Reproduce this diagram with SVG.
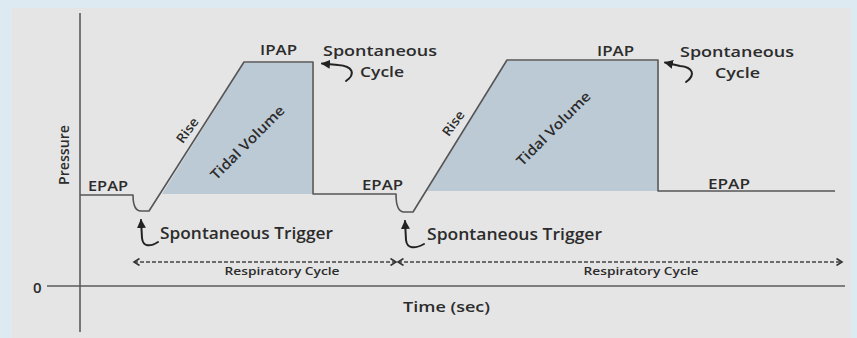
<svg xmlns="http://www.w3.org/2000/svg" width="857" height="338" viewBox="0 0 857 338">
  <style>
    .lbl { font-family: "Open Sans", "Liberation Sans", sans-serif; font-weight: 600; fill: #2c2c2c; }
    .trace { fill: none; stroke: #555; stroke-width: 1.6; stroke-linejoin: round; }
    .axis { fill: none; stroke: #5a5a5a; stroke-width: 1.6; }
    .fillv { fill: #bccad5; }
    .dash { fill: none; stroke: #444; stroke-width: 1.5; stroke-dasharray: 4 2; }
    .curl { fill: none; stroke: #222; stroke-width: 2; stroke-linecap: round; }
  </style>
  <defs>
    <marker id="solidHead" markerWidth="9" markerHeight="9" refX="8" refY="4.5" orient="auto" markerUnits="userSpaceOnUse">
      <path d="M0,0 L9,4.5 L0,9 Z" fill="#222"/>
    </marker>
    <marker id="openHead" markerWidth="8" markerHeight="8" refX="6" refY="4" orient="auto-start-reverse" markerUnits="userSpaceOnUse">
      <path d="M0.5,0.5 L6,4 L0.5,7.5" fill="none" stroke="#333" stroke-width="1.6"/>
    </marker>
  </defs>

  <!-- background and panel -->
  <rect x="0" y="0" width="857" height="338" fill="#deeaf1"/>
  <rect x="12" y="8" width="839" height="330" fill="#e5e5e5"/>

  <!-- axes -->
  <g id="axes">
    <line class="axis" x1="80" y1="13" x2="80" y2="332"/>
    <line class="axis" x1="47" y1="286" x2="845" y2="286"/>
    <text class="lbl" x="33" y="293" font-size="15" font-weight="700">0</text>
    <text class="lbl" font-size="14" text-anchor="middle" transform="translate(69,155) rotate(-90)" textLength="60" lengthAdjust="spacingAndGlyphs">Pressure</text>
    <text class="lbl" x="403" y="312" font-size="15" textLength="87" lengthAdjust="spacingAndGlyphs">Time (sec)</text>
  </g>

  <!-- tidal volume areas -->
  <g id="tidal-volume-1">
    <polygon class="fillv" points="162,194 244,63 312,63 312,194"/>
    <text class="lbl" font-size="14" text-anchor="middle" transform="translate(251,146) rotate(-45)" textLength="98" lengthAdjust="spacingAndGlyphs">Tidal Volume</text>
  </g>
  <g id="tidal-volume-2">
    <polygon class="fillv" points="427,191 507,61 657,61 657,191"/>
    <text class="lbl" font-size="14" text-anchor="middle" transform="translate(557,132) rotate(-45)" textLength="98" lengthAdjust="spacingAndGlyphs">Tidal Volume</text>
  </g>

  <!-- pressure trace -->
  <g id="pressure-trace">
    <path class="trace" d="M80,195 L133,195 C133,205 135,211 141,211 L149,211 L244,62 L313,62 L313,194 L396,194 C396,204 398,212 404,212 L413,212 L507,60 L658,60 L658,191 L835,191"/>
  </g>

  <!-- pressure labels -->
  <g id="epap-1"><text class="lbl" x="88" y="191" font-size="14" textLength="40" lengthAdjust="spacingAndGlyphs">EPAP</text></g>
  <g id="ipap-1"><text class="lbl" x="260" y="55" font-size="14" textLength="37" lengthAdjust="spacingAndGlyphs">IPAP</text></g>
  <g id="epap-2"><text class="lbl" x="362" y="190" font-size="14" textLength="41" lengthAdjust="spacingAndGlyphs">EPAP</text></g>
  <g id="ipap-2"><text class="lbl" x="597" y="56" font-size="14" textLength="37" lengthAdjust="spacingAndGlyphs">IPAP</text></g>
  <g id="epap-3"><text class="lbl" x="708" y="189" font-size="14" textLength="42" lengthAdjust="spacingAndGlyphs">EPAP</text></g>
  <g id="rise-1"><text class="lbl" font-size="13" text-anchor="middle" transform="translate(191,133) rotate(-54)" textLength="28" lengthAdjust="spacingAndGlyphs">Rise</text></g>
  <g id="rise-2"><text class="lbl" font-size="13" text-anchor="middle" transform="translate(457,126) rotate(-54)" textLength="28" lengthAdjust="spacingAndGlyphs">Rise</text></g>

  <!-- spontaneous cycle notes -->
  <g id="cycle-note-1">
    <text class="lbl" x="323" y="56" font-size="15" textLength="114" lengthAdjust="spacingAndGlyphs">Spontaneous</text>
    <text class="lbl" x="360" y="77" font-size="15" textLength="44" lengthAdjust="spacingAndGlyphs">Cycle</text>
  </g>
  <g id="cycle-note-2">
    <text class="lbl" x="680" y="57" font-size="15" textLength="114" lengthAdjust="spacingAndGlyphs">Spontaneous</text>
    <text class="lbl" x="715" y="78" font-size="15" textLength="45" lengthAdjust="spacingAndGlyphs">Cycle</text>
  </g>

  <!-- spontaneous trigger notes -->
  <g id="trigger-note-1">
    <text class="lbl" x="160" y="239" font-size="16" textLength="173" lengthAdjust="spacingAndGlyphs">Spontaneous Trigger</text>
  </g>
  <g id="trigger-note-2">
    <text class="lbl" x="427" y="240" font-size="16" textLength="175" lengthAdjust="spacingAndGlyphs">Spontaneous Trigger</text>
  </g>

  <!-- respiratory cycle spans -->
  <g id="resp-cycle-1">
    <text class="lbl" x="282" y="275" font-size="11" text-anchor="middle" textLength="115" lengthAdjust="spacingAndGlyphs">Respiratory Cycle</text>
  </g>
  <g id="resp-cycle-2">
    <text class="lbl" x="641" y="275" font-size="11" text-anchor="middle" textLength="115" lengthAdjust="spacingAndGlyphs">Respiratory Cycle</text>
  </g>

  <!-- connectors -->
  <g id="connectors">
    <path class="curl" d="M346,81 C356,74 353,66 338,65 L322,63.5" marker-end="url(#solidHead)"/>
    <path class="curl" d="M686,82 C696,75 693,67 680,66 L665,62.5" marker-end="url(#solidHead)"/>
    <path class="curl" d="M158,242 C150,247 143,247 142,238 L141,220" marker-end="url(#solidHead)"/>
    <path class="curl" d="M424,244 C415,249 407,249 406,240 L405,221" marker-end="url(#solidHead)"/>
    <line class="dash" x1="134" y1="262" x2="396" y2="262" marker-start="url(#openHead)" marker-end="url(#openHead)"/>
    <line class="dash" x1="398" y1="262" x2="842" y2="262" marker-start="url(#openHead)" marker-end="url(#openHead)"/>
  </g>
</svg>
